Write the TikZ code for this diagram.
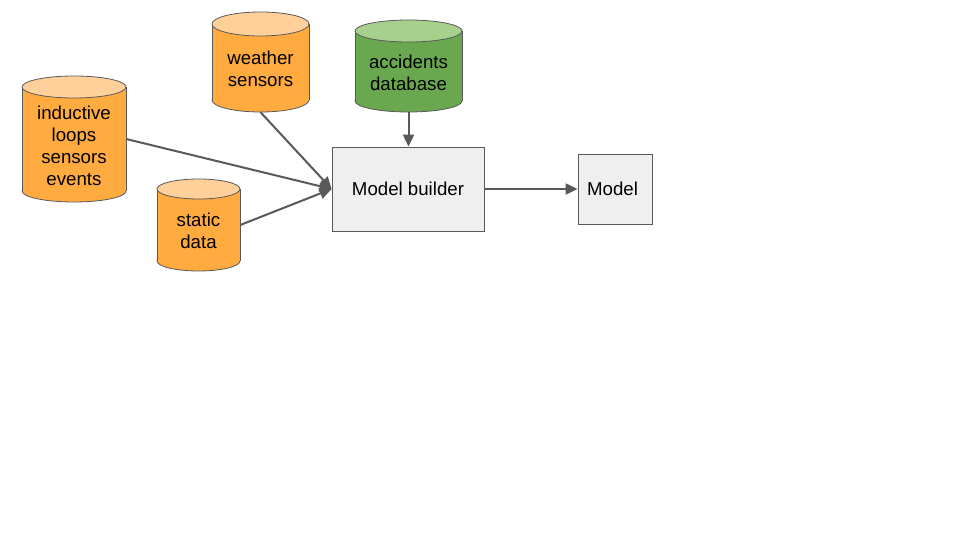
\documentclass[tikz,border=0pt]{standalone}
\usepackage{fontspec}
\setmainfont{Liberation Sans}
\usetikzlibrary{arrows.meta}
\definecolor{orbody}{HTML}{FFAB40}
\definecolor{ortop}{HTML}{FFD09A}
\definecolor{grbody}{HTML}{6AA84F}
\definecolor{grtop}{HTML}{A8D08D}
\definecolor{boxfill}{HTML}{EFEFEF}
\definecolor{edge}{HTML}{595959}
\newcommand{\dbcyl}[9]{%
  % #1 name, #2 x1, #3 x2, #4 ytop, #5 ybot, #6 ry, #7 body, #8 top, #9 unused
  \pgfmathsetmacro{\cx}{(#2+#3)/2}
  \pgfmathsetmacro{\rx}{(#3-#2)/2}
  \pgfmathsetmacro{\cyt}{#4+#6}
  \pgfmathsetmacro{\cyb}{#5-#6}
  \pgfmathsetmacro{\cw}{#3-#2}
  \pgfmathsetmacro{\ch}{#5-#4}
  \pgfmathsetmacro{\cm}{(#4+#5)/2}
  \fill[#7, draw=edge, line width=0.8] (\cx,\cyb) ellipse [x radius=\rx, y radius=#6];
  \fill[#7] (#2,\cyt) rectangle (#3,\cyb);
  \draw[edge, line width=0.8] (#2,\cyt) -- (#2,\cyb) (#3,\cyt) -- (#3,\cyb);
  \fill[#8, draw=edge, line width=0.8] (\cx,\cyt) ellipse [x radius=\rx, y radius=#6];
  \node[inner sep=0, minimum width=\cw pt, minimum height=\ch pt] (#1) at (\cx,\cm) {};
}
\tikzset{
  lbl/.style={font=\fontsize{18.67}{22}\selectfont, align=center, inner sep=0},
  box/.style={draw=edge, fill=boxfill, line width=0.8, inner sep=0, font=\fontsize{18.67}{22}\selectfont},
  conn/.style={draw=edge, line width=2, -{Triangle[length=12pt,width=11pt]}},
}
\begin{document}
\begin{tikzpicture}[x=1pt,y=-1pt]
\useasboundingbox[fill=white] (0,0) rectangle (960,540);
\dbcyl{ind}{22}{126}{76}{202}{11}{orbody}{ortop}{}
\node[lbl] (indt) at (74,146) {inductive\\loops\\sensors\\events};
\dbcyl{wea}{212}{309}{12}{112}{12}{orbody}{ortop}{}
\node[lbl] (weat) at (260.5,69) {weather\\sensors};
\dbcyl{acc}{355}{462}{20}{112}{11}{grbody}{grtop}{}
\node[lbl] (acct) at (408.5,73) {accidents\\database};
\dbcyl{sta}{157}{240}{179}{271}{10}{orbody}{ortop}{}
\node[lbl] (stat) at (198.5,231) {static\\data};
\node[box, minimum width=152pt, minimum height=84pt] (mb) at (408,189) {Model builder};
\node[box, minimum width=74pt, minimum height=70pt] (mo) at (615,189) {\hspace*{-5pt}Model};
\draw[conn] (ind.east) -- (mb.west);
\draw[conn] (wea.south) -- (mb.west);
\draw[conn] (sta.east) -- (mb.west);
\draw[conn] (acc.south) -- (mb.north -| acc.south);
\draw[conn] (mb.east) -- (mo.west);
\end{tikzpicture}
\end{document}
